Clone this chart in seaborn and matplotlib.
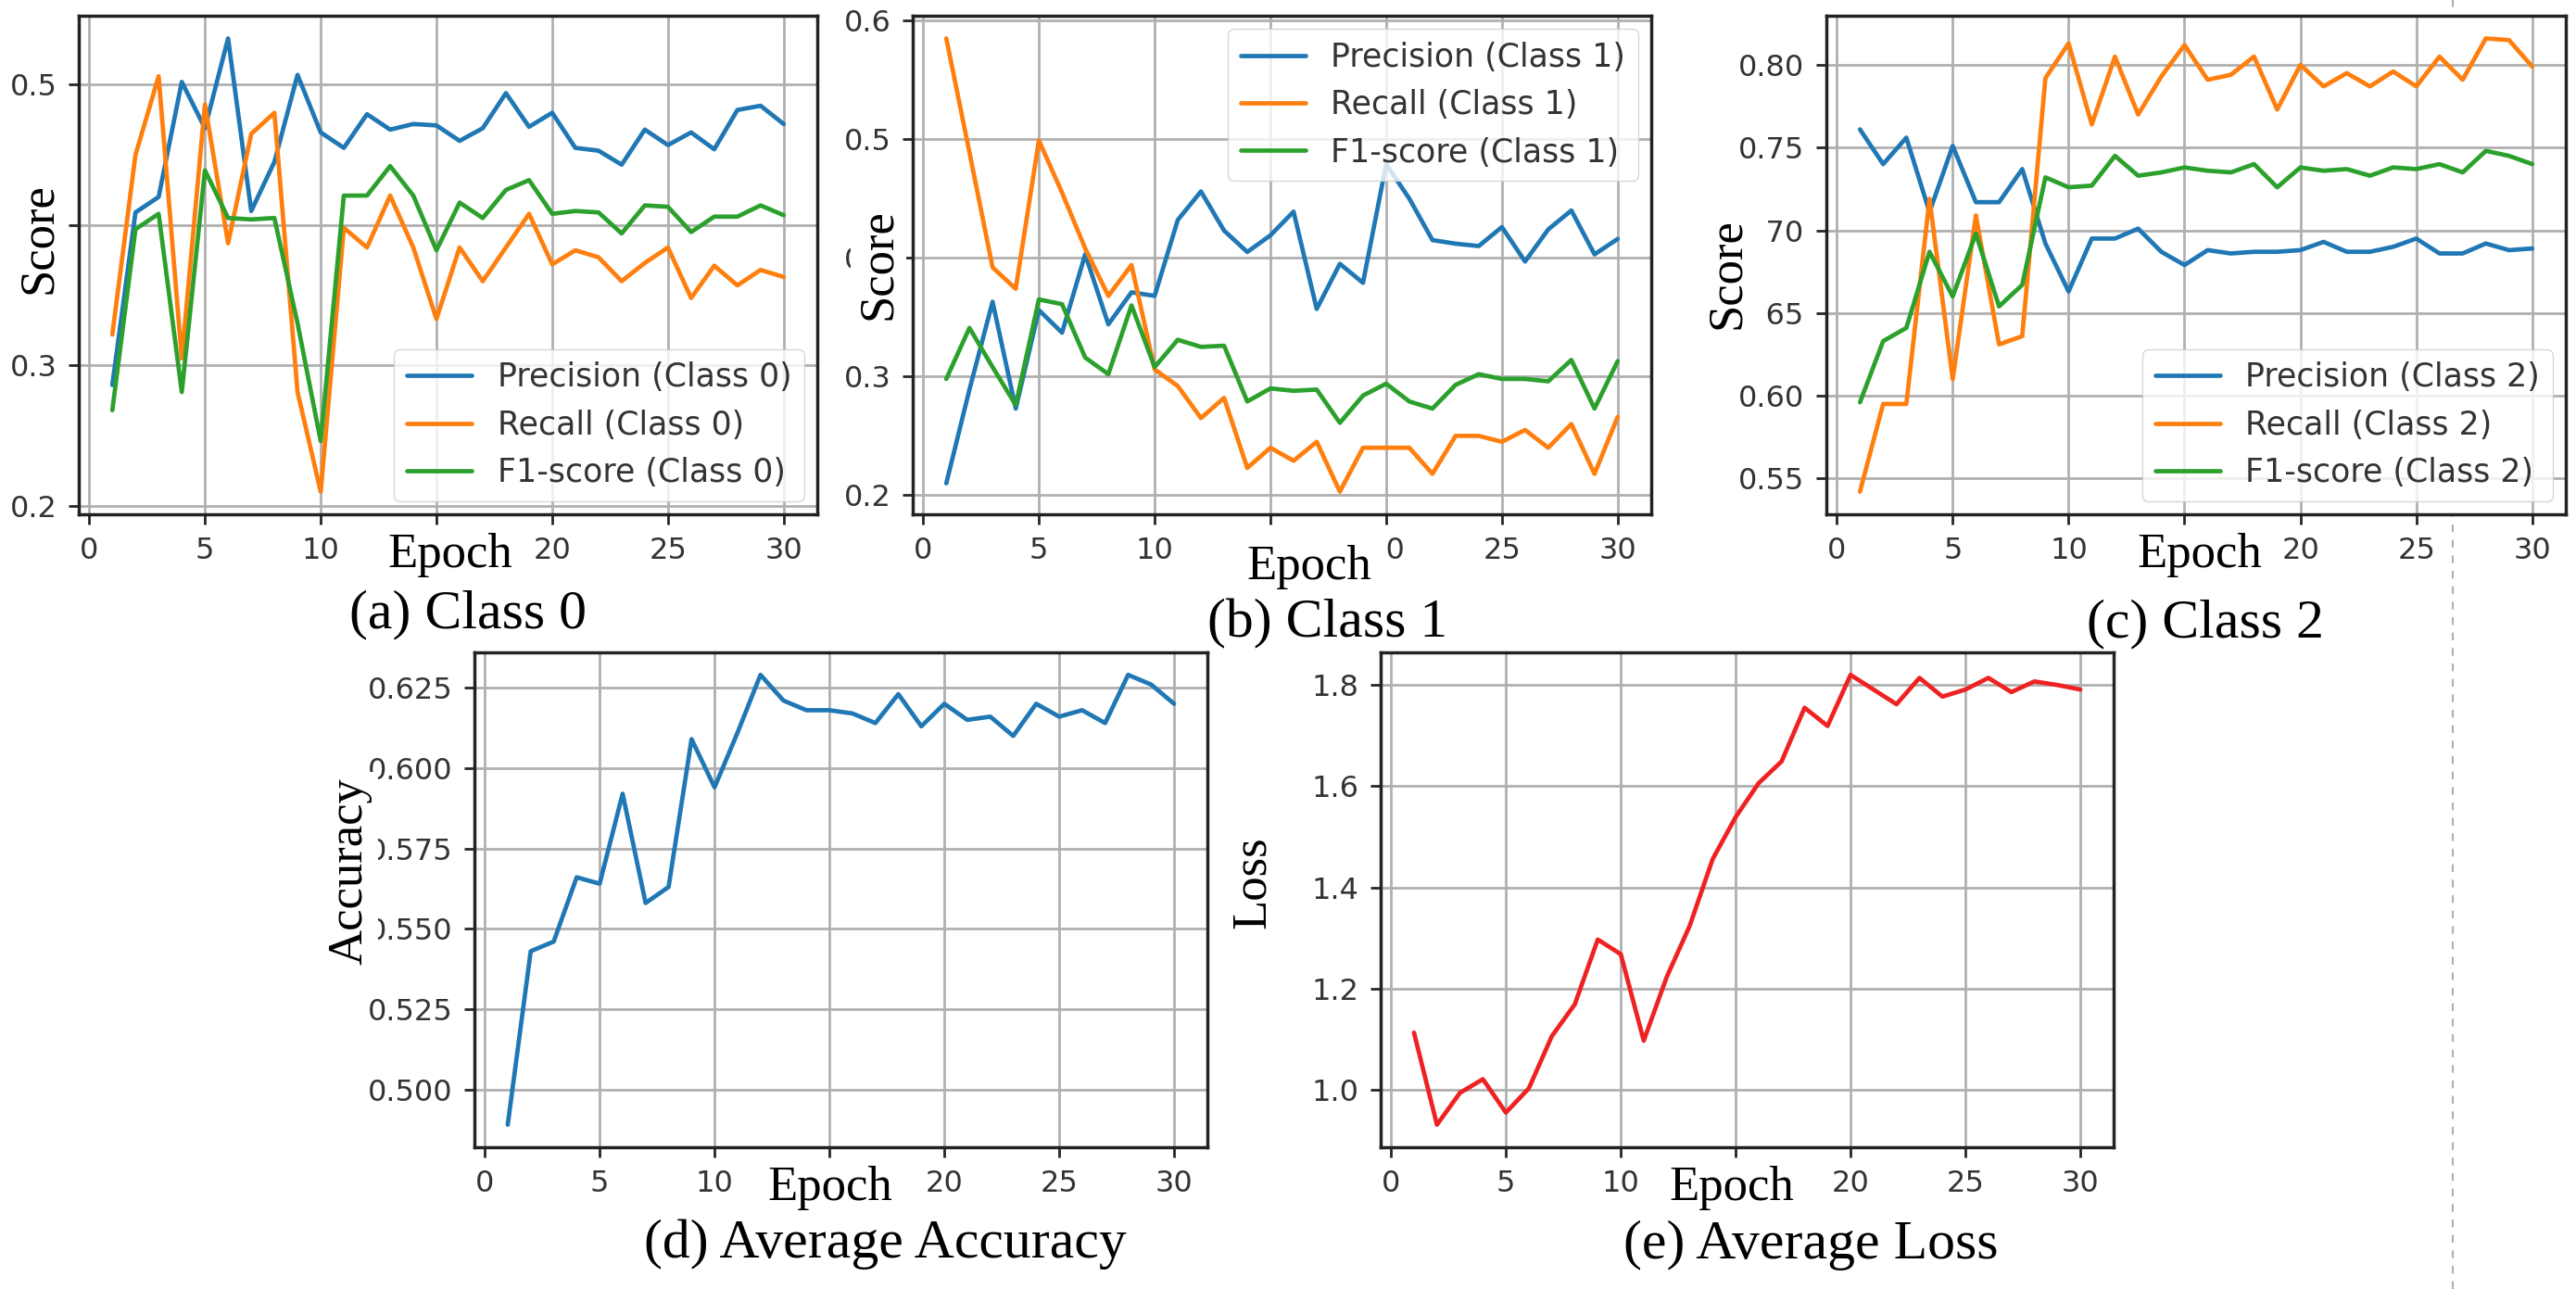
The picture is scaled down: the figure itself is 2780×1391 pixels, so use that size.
import numpy as np
import pandas as pd
import matplotlib
matplotlib.use("Agg")
import matplotlib.pyplot as plt
import seaborn as sns
from matplotlib.ticker import MultipleLocator, FormatStrFormatter
from matplotlib.lines import Line2D

epochs = list(range(1, 31))

# class 0
prec_c0 = [0.286, 0.409, 0.420, 0.502, 0.469, 0.533, 0.410, 0.445, 0.507, 0.466,
           0.455, 0.479, 0.468, 0.472, 0.471, 0.460, 0.469, 0.494, 0.470, 0.480,
           0.455, 0.453, 0.443, 0.468, 0.457, 0.466, 0.454, 0.482, 0.485, 0.472]
rec_c0 = [0.322, 0.450, 0.506, 0.305, 0.486, 0.387, 0.465, 0.480, 0.281, 0.210,
          0.398, 0.384, 0.421, 0.384, 0.333, 0.384, 0.360, 0.384, 0.408, 0.372,
          0.382, 0.377, 0.360, 0.373, 0.384, 0.348, 0.371, 0.357, 0.368, 0.363]
f1_c0 = [0.268, 0.397, 0.408, 0.281, 0.439, 0.405, 0.404, 0.405, 0.330, 0.246,
         0.421, 0.421, 0.442, 0.421, 0.382, 0.416, 0.405, 0.425, 0.432, 0.408,
         0.410, 0.409, 0.394, 0.414, 0.413, 0.395, 0.406, 0.406, 0.414, 0.407]

# class 1
prec_c1 = [0.210, 0.289, 0.363, 0.273, 0.356, 0.337, 0.403, 0.344, 0.371, 0.368,
           0.432, 0.456, 0.423, 0.405, 0.419, 0.439, 0.357, 0.395, 0.379, 0.479,
           0.450, 0.415, 0.412, 0.410, 0.426, 0.397, 0.424, 0.440, 0.403, 0.416]
rec_c1 = [0.585, 0.489, 0.392, 0.374, 0.499, 0.455, 0.408, 0.368, 0.394, 0.306,
          0.292, 0.265, 0.282, 0.223, 0.240, 0.229, 0.245, 0.203, 0.240, 0.240,
          0.240, 0.218, 0.250, 0.250, 0.245, 0.255, 0.240, 0.260, 0.218, 0.266]
f1_c1 = [0.298, 0.341, 0.308, 0.276, 0.365, 0.361, 0.316, 0.302, 0.360, 0.308,
         0.331, 0.325, 0.326, 0.279, 0.290, 0.288, 0.289, 0.261, 0.284, 0.294,
         0.279, 0.273, 0.293, 0.302, 0.298, 0.298, 0.296, 0.314, 0.273, 0.313]

# class 2
prec_c2 = [0.761, 0.740, 0.756, 0.711, 0.751, 0.717, 0.717, 0.737, 0.692, 0.663,
           0.695, 0.695, 0.701, 0.687, 0.679, 0.688, 0.686, 0.687, 0.687, 0.688,
           0.693, 0.687, 0.687, 0.690, 0.695, 0.686, 0.686, 0.692, 0.688, 0.689]
rec_c2 = [0.542, 0.595, 0.595, 0.719, 0.610, 0.709, 0.631, 0.636, 0.792, 0.813,
          0.764, 0.805, 0.770, 0.793, 0.812, 0.791, 0.794, 0.805, 0.773, 0.800,
          0.787, 0.795, 0.787, 0.796, 0.787, 0.805, 0.791, 0.816, 0.815, 0.799]
f1_c2 = [0.596, 0.633, 0.641, 0.687, 0.660, 0.698, 0.654, 0.667, 0.732, 0.726,
         0.727, 0.745, 0.733, 0.735, 0.738, 0.736, 0.735, 0.740, 0.726, 0.738,
         0.736, 0.737, 0.733, 0.738, 0.737, 0.740, 0.735, 0.748, 0.745, 0.740]

avg_acc = [0.489, 0.543, 0.546, 0.566, 0.564, 0.592, 0.558, 0.563, 0.609, 0.594,
           0.611, 0.629, 0.621, 0.618, 0.618, 0.617, 0.614, 0.623, 0.613, 0.620,
           0.615, 0.616, 0.610, 0.620, 0.616, 0.618, 0.614, 0.629, 0.626, 0.620]
avg_loss = [1.113, 0.931, 0.994, 1.021, 0.955, 1.003, 1.106, 1.169, 1.297, 1.268,
            1.097, 1.223, 1.324, 1.456, 1.539, 1.606, 1.649, 1.755, 1.719, 1.820,
            1.791, 1.762, 1.814, 1.777, 1.791, 1.814, 1.786, 1.807, 1.800, 1.791]

W, H = 2780, 1391
sns.set_style("ticks")
plt.rcParams["font.family"] = ["DejaVu Sans"]
SERIF = ["Liberation Serif", "DejaVu Serif"]

fig = plt.figure(figsize=(W / 100, H / 100), dpi=100)


def px_axes(l, t, r, b):
    return fig.add_axes([l / W, 1 - b / H, (r - l) / W, (b - t) / H])


def style_ax(ax, step, fmt):
    ax.set_xticks(range(0, 31, 5))
    ax.yaxis.set_major_locator(MultipleLocator(step))
    ax.yaxis.set_major_formatter(FormatStrFormatter(fmt))
    ax.grid(True, color="#b0b0b0", lw=2)
    ax.set_axisbelow(True)
    ax.tick_params(labelsize=23, length=8, width=2, pad=9, labelcolor="#333333")
    for s in ax.spines.values():
        s.set_linewidth(2.5)
        s.set_color("#222222")
    ax.set_xlabel("")
    ax.set_ylabel("")


def ptext(x, y, s, size=38, rot=0, pad=4, va="baseline"):
    kw = dict(fontsize=size, family=SERIF, rotation=rot, ha="center", va=va,
              color="black", zorder=10)
    if pad is not None:
        kw["bbox"] = dict(facecolor="white", edgecolor="none", pad=pad)
    fig.text(x / W, 1 - y / H, s, **kw)


# faint page divider
fig.add_artist(Line2D([2647 / W, 2647 / W], [0, 1], transform=fig.transFigure,
                      color="#b0b0b0", lw=1.5, ls=(0, (4, 4)), zorder=-1))

class_panels = [
    ((85, 17, 882, 555), prec_c0, rec_c0, f1_c0, "0", "lower right"),
    ((985, 17, 1782, 555), prec_c1, rec_c1, f1_c1, "1", "upper right"),
    ((1971, 17, 2769, 555), prec_c2, rec_c2, f1_c2, "2", "lower right"),
]
steps = [(0.1, "%.1f"), (0.1, "%.1f"), (0.05, "%.2f")]

for (box, p, r, f, c, loc), (st, fm) in zip(class_panels, steps):
    ax = px_axes(*box)
    df = pd.DataFrame({"epoch": epochs, "p": p, "r": r, "f": f})
    sns.lineplot(data=df, x="epoch", y="p", ax=ax, color="#1f77b4", lw=3.4,
                 label=f"Precision (Class {c})")
    sns.lineplot(data=df, x="epoch", y="r", ax=ax, color="#ff7f0e", lw=3.4,
                 label=f"Recall (Class {c})")
    sns.lineplot(data=df, x="epoch", y="f", ax=ax, color="#2ca02c", lw=3.4,
                 label=f"F1-score (Class {c})")
    style_ax(ax, st, fm)
    leg = ax.legend(loc=loc, fontsize=25, framealpha=0.8, edgecolor="#cccccc",
                    borderaxespad=0.4)
    for t in leg.get_texts():
        t.set_color("#333333")

ax_d = px_axes(512, 704, 1303, 1238)
sns.lineplot(x=epochs, y=avg_acc, ax=ax_d, color="#1f77b4", lw=3.4)
style_ax(ax_d, 0.025, "%.3f")

ax_e = px_axes(1490, 704, 2281, 1238)
sns.lineplot(x=epochs, y=avg_loss, ax=ax_e, color="#ee2222", lw=3.4)
style_ax(ax_e, 0.2, "%.1f")

# pasted axis labels
ptext(42, 257, "Score", rot=90, va="center")
ptext(948, 285, "Score", rot=90, va="center")
ptext(1864, 295, "Score", rot=90, va="center", pad=10)
ptext(378, 940, "Accuracy", rot=90, va="center", pad=4)
ptext(1352, 952, "Loss", rot=90, va="center")

ptext(486, 612, "Epoch")
ptext(1413, 625, "Epoch", pad=11)
ptext(2374, 612, "Epoch")
ptext(896, 1295, "Epoch")
ptext(1869, 1295, "Epoch")

# captions
ptext(505, 677, "(a) Class 0", size=43, pad=None)
ptext(1433, 687, "(b) Class 1", size=43, pad=None)
ptext(2380, 687, "(c) Class 2", size=43, pad=None)
ptext(955, 1357, "(d) Average Accuracy", size=43, pad=None)
ptext(1954, 1358, "(e) Average Loss", size=43, pad=None)

fig.savefig("out.png", dpi=100, facecolor="white")
